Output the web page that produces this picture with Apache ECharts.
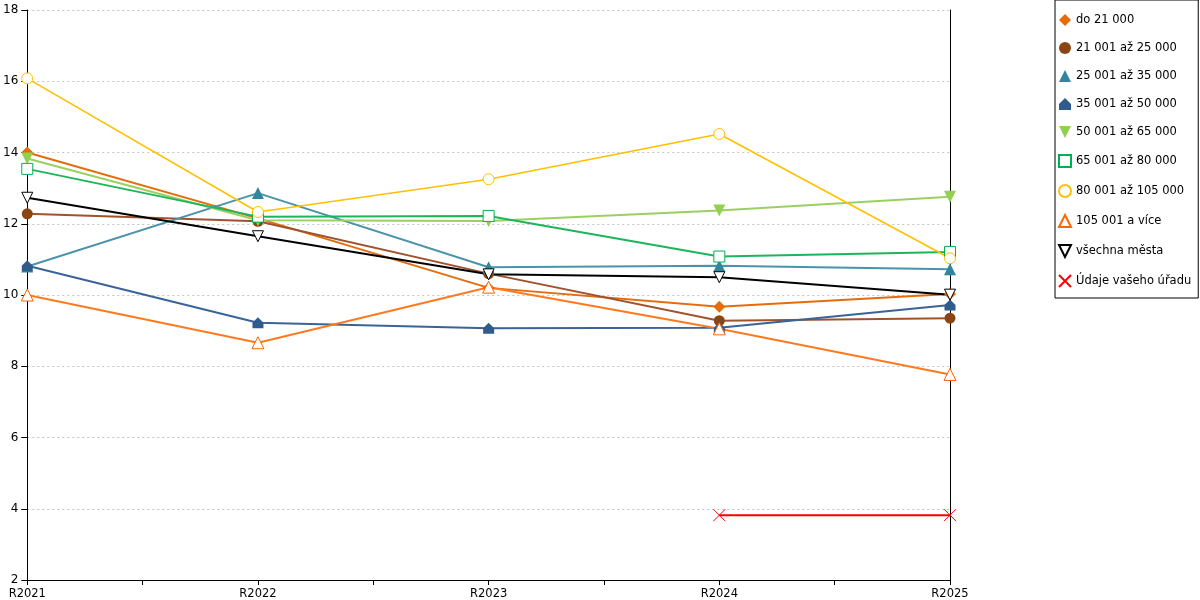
<!DOCTYPE html>
<html>
<head>
<meta charset="utf-8">
<script src="https://cdn.jsdelivr.net/npm/echarts@6/dist/echarts.min.js"></script>
<style>html,body{margin:0;padding:0;background:#fff}#c{width:1200px;height:600px}</style>
</head>
<body>
<div id="c"></div>
<script>
const categories = ['R2021', 'R2022', 'R2023', 'R2024', 'R2025'];
const seriesNames = ['do 21 000', '21 001 až 25 000', '25 001 až 35 000', '35 001 až 50 000', '50 001 až 65 000', '65 001 až 80 000', '80 001 až 105 000', '105 001 a více', 'všechna města', 'Údaje vašeho úřadu'];
const do21 = [14.0, 12.15, 10.2, 9.67, 10.03];
const s21to25 = [12.28, 12.07, 10.6, 9.28, 9.35];
const s25to35 = [10.8, 12.86, 10.78, 10.82, 10.72];
const s35to50 = [10.82, 9.22, 9.07, 9.08, 9.72];
const s50to65 = [13.83, 12.1, 12.08, 12.37, 12.76];
const s65to80 = [13.54, 12.2, 12.22, 11.08, 11.21];
const s80to105 = [16.08, 12.33, 13.25, 14.52, 11.03];
const s105plus = [10.0, 8.66, 10.22, 9.05, 7.77];
const allCities = [12.73, 11.65, 10.58, 10.5, 10.01];
const office = [null, null, null, 3.82, 3.82];
const yTicks = [2, 4, 6, 8, 10, 12, 14, 16, 18];

const values = [do21, s21to25, s25to35, s35to50, s50to65, s65to80, s80to105, s105plus, allCities, office];
const lineColors = ['#E46C0A', '#A0522D', '#4A93A8', '#3A6496', '#9BD060', '#1DB55C', '#FFC000', '#FF7A1F', '#000000', '#FF0000'];
const markColors = ['#E46C0A', '#8B4513', '#31859C', '#2F5B8D', '#92D050', '#00B050', '#FFC000', '#FF6600', '#000000', '#FF0000'];
const symbols = ['diamond', 'circle', 'triangle', 'path://M5,0L10,5L10,10L0,10L0,5Z', 'path://M0,0L10,0L5,10Z', 'rect', 'circle', 'triangle', 'path://M0,0L10,0L5,10Z', 'path://M0,0L10,10M10,0L0,10'];
const filled = [true, true, true, true, true, false, false, false, false, false];
const sizes = [12, 11, 12, 11, 12, 11, 11, 12, 11, 12];

const series = seriesNames.map((name, i) => ({
  name: name,
  type: 'line',
  data: values[i].map((v, j) => [j, v]),
  symbol: symbols[i],
  symbolSize: sizes[i],
  showAllSymbol: true,
  lineStyle: { color: lineColors[i], width: i === 6 ? 1.6 : 2 },
  itemStyle: filled[i]
    ? { color: markColors[i], borderColor: markColors[i], borderWidth: 0 }
    : { color: i === 9 ? markColors[i] : '#ffffff', borderColor: markColors[i], borderWidth: 1 },
  emphasis: { disabled: true },
  animation: false
}));

const chart = echarts.init(document.getElementById('c'));
chart.setOption({
  animation: false,
  backgroundColor: '#ffffff',
  textStyle: { fontFamily: 'DejaVu Sans' },
  grid: { left: 27, right: 250, top: 10, bottom: 20, containLabel: false },
  xAxis: {
    type: 'value',
    min: 0,
    max: categories.length - 1,
    interval: 0.5,
    axisLine: { show: true, lineStyle: { color: '#000', width: 1 } },
    axisTick: { show: true, length: 5, lineStyle: { color: '#000' } },
    splitLine: { show: false },
    axisLabel: {
      color: '#000', fontSize: 11.5, margin: 8, fontFamily: 'DejaVu Sans',
      showMinLabel: true, showMaxLabel: true,
      formatter: v => Number.isInteger(v) ? categories[v] : ''
    }
  },
  yAxis: [{
    type: 'value',
    min: yTicks[0],
    max: yTicks[yTicks.length - 1],
    interval: 2,
    axisLine: { show: true, lineStyle: { color: '#000', width: 1 } },
    axisTick: { show: true, length: 6, lineStyle: { color: '#000' } },
    splitLine: { show: true, lineStyle: { color: '#c4c4c4', type: [2, 3], width: 1 } },
    axisLabel: { color: '#000', fontSize: 12, margin: 9, fontFamily: 'DejaVu Sans' }
  }, {
    type: 'value',
    position: 'right',
    min: yTicks[0],
    max: yTicks[yTicks.length - 1],
    interval: 2,
    axisLine: { show: true, lineStyle: { color: '#000', width: 1 } },
    axisTick: { show: false },
    axisLabel: { show: false },
    splitLine: { show: false }
  }],
  legend: {
    orient: 'vertical',
    left: 1055,
    top: 0,
    padding: [14, 7, 10, 3],
    itemWidth: 12,
    itemHeight: 12,
    itemGap: 16,
    backgroundColor: '#ffffff',
    borderColor: '#000000',
    borderWidth: 1,
    borderRadius: 0,
    selectedMode: false,
    textStyle: { color: '#000', fontSize: 11.5, fontFamily: 'DejaVu Sans', padding: [0, 0, 0, 0] },
    data: seriesNames.map((n, i) => ({ name: n, icon: symbols[i] }))
  },
  series: series
});
</script>
</body>
</html>
